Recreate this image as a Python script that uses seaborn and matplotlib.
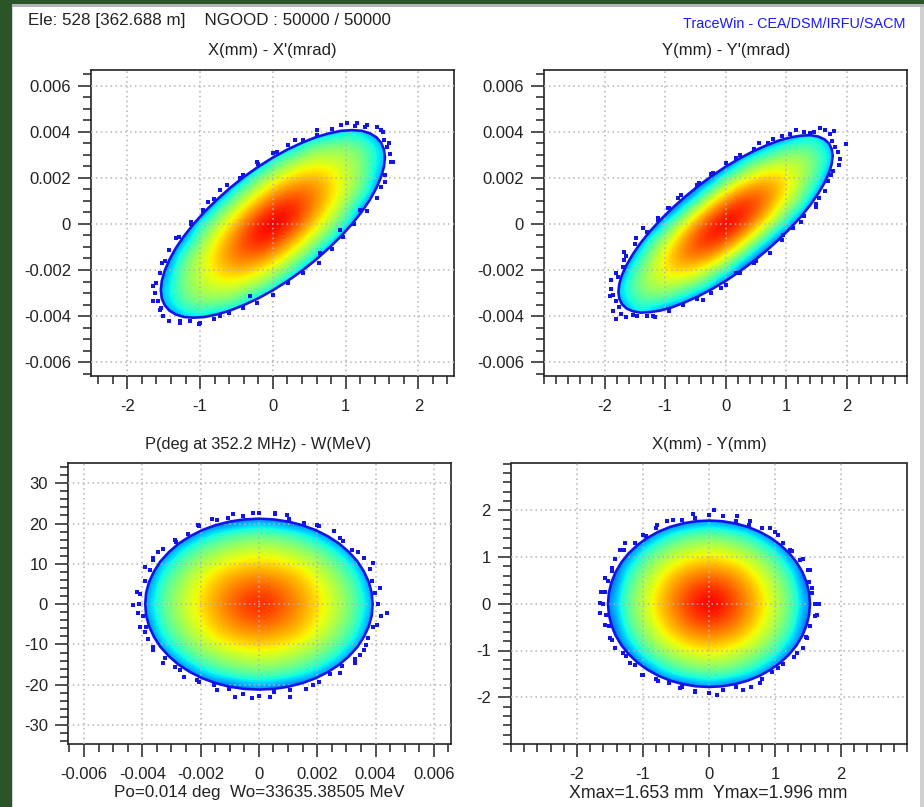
import numpy as np
import pandas as pd
import matplotlib
matplotlib.use("Agg")
import matplotlib.pyplot as plt
from matplotlib.patches import Polygon, Rectangle
from matplotlib.ticker import MultipleLocator
import seaborn as sns

# ---------- tick labels / titles ----------
xp_ticks = [-0.006, -0.004, -0.002, 0, 0.002, 0.004, 0.006]
xp_labels = ["-0.006", "-0.004", "-0.002", "0", "0.002", "0.004", "0.006"]
mm_ticks = [-2, -1, 0, 1, 2]
mm_labels = ["-2", "-1", "0", "1", "2"]
w_ticks = [-30, -20, -10, 0, 10, 20, 30]
w_labels = ["-30", "-20", "-10", "0", "10", "20", "30"]

# ---------- rms-ellipse outlines: upper half; the lower half mirrors it through the centre ----------
e1_x = [1.54, 1.527, 1.488, 1.423, 1.334, 1.222, 1.089, .938, .77, .589, .399, .201, 0, -.201, -.399, -.589, -.77, -.938,
        -1.089, -1.222, -1.334, -1.423, -1.488, -1.527]
e1_y = [.00288, .00323, .00352, .00376, .00393, .00404, .00407, .00404, .00393, .00376, .00352, .00323, .00288, .00248,
        .00204, .00156, .00105, .00053, 0, -.00053, -.00105, -.00156, -.00204, -.00248]
e2_x = [1.77, 1.755, 1.71, 1.635, 1.533, 1.404, 1.252, 1.078, .885, .677, .458, .231, 0, -.231, -.458, -.677, -.885, -1.078,
        -1.252, -1.404, -1.533, -1.635, -1.71, -1.755]
e2_y = [.00295, .00325, .00349, .00367, .00379, .00385, .00383, .00376, .00362, .00341, .00315, .00284, .00248, .00207,
        .00163, .00116, .00067, .00017, -.00033, -.00083, -.00132, -.00178, -.00221, -.0026]
e3_x = [.0039, .00387, .00377, .0036, .00338, .00309, .00276, .00237, .00195, .00149, .00101, .00051, 0, -.00051, -.00101,
        -.00149, -.00195, -.00237, -.00276, -.00309, -.00338, -.0036, -.00377, -.00387]
e3_y = [0, 2.77, 5.49, 8.11, 10.6, 12.91, 14.99, 16.82, 18.36, 19.59, 20.48, 21.02, 21.2, 21.02, 20.48, 19.59, 18.36, 16.82,
        14.99, 12.91, 10.6, 8.11, 5.49, 2.77]
e4_x = [1.53, 1.517, 1.478, 1.414, 1.325, 1.214, 1.082, .931, .765, .586, .396, .2, 0, -.2, -.396, -.586, -.765, -.931,
        -1.082, -1.214, -1.325, -1.414, -1.478, -1.517]
e4_y = [0, .232, .461, .681, .89, 1.084, 1.259, 1.412, 1.542, 1.645, 1.719, 1.765, 1.78, 1.765, 1.719, 1.645, 1.542, 1.412,
        1.259, 1.084, .89, .681, .461, .232]

# ---------- isolated particles outside the ellipses ----------
s1_x = [1.15, 1.29, 1.49, 1.59, 1.63, 1.54, 1.2, .92, .65, -.32, -.73, -1.0, -1.28, -1.55, -1.65, -1.6, -1.53, -1.33,
        -1.12, -.96, -.89, -.73, -.45, -.22, .05, .3, .6, .94]
s1_y = [.00436, .00429, .00407, .00349, .0027, .00183, .00061, -.00026, -.00127, -.00315, -.00401, -.0043, -.0043,
        -.00372, -.00336, -.00257, -.0017, -.00062, .0001, .0006, .00097, .00147, .00198, .0027, .00313, .00364, .00407, .00429]
s2_x = [1.565, 1.8, 1.99, 1.88, 1.75, 1.55, 1.5, 1.25, .95, .73, .51, .18, -.07, -.37, -.71, -1.2, -1.53, -1.81, -1.86,
        -1.91, -1.89, -1.81, -1.67, -1.67, -1.48, -1.37, -1.12, -.95, -.79, -.43, -.21, .18, .56, .78, 1.06, 1.39]
s2_y = [.00418, .00404, .00345, .00255, .00212, .00111, .00075, .0001, -.00048, -.00127, -.00163, -.00214, -.00278,
        -.00329, -.00351, -.00401, -.00394, -.00413, -.0038, -.00315, -.00242, -.00214, -.00156, -.0012, -.00062, -.00019,
        .00025, .00068, .00111, .00176, .00219, .00284, .00349, .00367, .0039, .00395]
s3_x = [-.00431, -.00408, -.00408, -.00391, -.00363, -.00345, -.00288, -.00208, -.00145, -.00088, -.0002, .00055, .00095,
        .00198, .00278, .00341, .00392, .00415, .00438, .00404, .00369, .00346, .00329, .00278, .00186, .00106, .00038,
        -.00025, -.00082, -.00145, -.00214, -.00271, -.00328, -.00363, -.00391, -.00414]
s3_y = [-.25, 2.6, -5.6, 9.3, 10.9, 13, 15.9, 19.6, 20.8, 22.3, 22.7, 22.5, 22.1, 19.6, 16.3, 13, 10.1, 3.9, -2.3, -5.2,
        -10.2, -12.7, -14.7, -17.2, -20.1, -23, -23, -23.4, -23, -21.3, -18.9, -16.4, -14.7, -10.6, -6.9, -2.3]
s4_x = [.07, -.24, -.54, -.79, -1.0, -1.27, -1.35, -1.47, -1.58, -1.58, -1.65, -1.65, -1.58, -1.47, -1.3, -1.2, -1.02, -.77,
        -.44, -.21, .12, .52, .77, 1.05, 1.33, 1.48, 1.61, 1.66, 1.56, 1.53, 1.38, 1.23, 1.05, .92, .62, .42]
s4_y = [2.0, 1.93, 1.8, 1.69, 1.48, 1.3, 1.16, .76, .55, .26, .01, -.2, -.45, -.77, -1.06, -1.27, -1.52, -1.66, -1.81, -1.88,
        -1.95, -1.84, -1.7, -1.38, -1.06, -.73, -.27, 0, .34, .73, .94, 1.16, 1.48, 1.62, 1.76, 1.88]

# ---------- particles hugging the ellipses (upper half; mirrored through the centre) ----------
h1_x = [1.617, 1.533, 1.427, 1.133, .809, .411, 0, -.415, -.809, -1.122, -1.427, -1.548,
        1.573, 1.508, 1.271, 1.013, .607, .213, -.209, -.636, -.966, -1.295, -1.48, -1.649]
h1_y = [.00302, .00363, .00421, .00423, .00413, .00363, .00308, .00212, .0011, 0, -.00112, -.00212,
        .00333, .00399, .0042, .00436, .00387, .00342, .00258, .00168, .00055, -.00056, -.00162, -.00268]
h2_x = [1.859, 1.761, 1.64, 1.302, .929, .472, 0, -.476, -.929, -1.29, -1.64, -1.778,
        1.808, 1.733, 1.46, 1.164, .697, .245, -.24, -.731, -1.11, -1.488, -1.7, -1.895]
h2_y = [.0031, .00359, .00406, .00398, .0038, .00324, .00265, .0017, .0007, -.00034, -.00141, -.0023,
        .00335, .00389, .004, .00406, .00351, .00301, .00215, .00125, .00018, -.00088, -.00185, -.00281]
h3_x = [.0041, .00388, .00362, .00287, .00205, .00104, 0, -.00105, -.00205, -.00284, -.00362, -.00392,
        .00399, .00382, .00321, .00256, .00153, .00054, -.00053, -.00161, -.00244, -.00328, -.00374, -.00418]
h3_y = [0, 5.65, 11.34, 15.59, 19.28, 21.09, 22.68, 21.3, 19.28, 15.44, 11.34, 5.71,
        2.85, 8.6, 13.43, 18.17, 20.18, 22.28, 21.86, 21.16, 17.32, 13.68, 8.43, 2.99]
h4_x = [1.607, 1.522, 1.418, 1.125, .803, .408, 0, -.412, -.803, -1.114, -1.418, -1.537,
        1.563, 1.499, 1.263, 1.005, .604, .212, -.208, -.633, -.959, -1.287, -1.471, -1.638]
h4_y = [0, .475, .952, 1.309, 1.619, 1.771, 1.905, 1.788, 1.619, 1.297, .952, .479,
        .239, .722, 1.127, 1.525, 1.694, 1.871, 1.836, 1.777, 1.454, 1.149, .708, .251]

# ---------- coarse density (top row first) ----------
d1_x = [-1.5, -1.25, -1.0, -.75, -.5, -.25, 0, .25, .5, .75, 1.0, 1.25, 1.5]
d1_y = [.0042, .0035, .0028, .0021, .0014, .0007, 0, -.0007, -.0014, -.0021, -.0028, -.0035, -.0042]
d1 = [
    [.15, .15, .15, .15, .15, .15, .15, .15, .15, .20, .30, .28, .15],
    [.15, .15, .15, .15, .15, .15, .15, .25, .44, .49, .50, .45, .30],
    [.15, .15, .15, .15, .15, .15, .40, .52, .59, .60, .57, .50, .30],
    [.15, .15, .15, .15, .15, .45, .58, .67, .71, .69, .60, .50, .25],
    [.15, .15, .15, .15, .47, .60, .73, .80, .80, .71, .60, .45, .15],
    [.15, .15, .15, .45, .60, .75, .87, .90, .80, .67, .52, .25, .15],
    [.15, .15, .40, .58, .73, .87, .95, .87, .73, .58, .40, .15, .15],
    [.15, .25, .52, .67, .80, .90, .87, .75, .60, .45, .15, .15, .15],
    [.15, .45, .60, .71, .80, .80, .73, .60, .47, .15, .15, .15, .15],
    [.25, .50, .60, .69, .71, .67, .58, .45, .15, .15, .15, .15, .15],
    [.30, .50, .57, .60, .59, .52, .40, .15, .15, .15, .15, .15, .15],
    [.30, .45, .50, .49, .44, .25, .15, .15, .15, .15, .15, .15, .15],
    [.15, .28, .30, .20, .15, .15, .15, .15, .15, .15, .15, .15, .15],
]
d2_x = [-1.8, -1.5, -1.2, -.9, -.6, -.3, 0, .3, .6, .9, 1.2, 1.5, 1.8]
d2_y = [.0039, .00325, .0026, .00195, .0013, .00065, 0, -.00065, -.0013, -.00195, -.0026, -.00325, -.0039]
d2 = [
    [.15, .15, .15, .15, .15, .15, .15, .15, .15, .15, .28, .38, .15],
    [.15, .15, .15, .15, .15, .15, .15, .15, .30, .44, .50, .44, .30],
    [.15, .15, .15, .15, .15, .15, .15, .44, .55, .60, .58, .50, .28],
    [.15, .15, .15, .15, .15, .15, .50, .62, .71, .70, .60, .44, .15],
    [.15, .15, .15, .15, .15, .52, .68, .80, .81, .71, .56, .30, .15],
    [.15, .15, .15, .15, .52, .70, .85, .90, .80, .62, .44, .15, .15],
    [.15, .15, .15, .50, .68, .85, .95, .85, .68, .50, .15, .15, .15],
    [.15, .15, .44, .62, .80, .90, .85, .70, .52, .15, .15, .15, .15],
    [.15, .30, .56, .71, .81, .80, .68, .52, .15, .15, .15, .15, .15],
    [.15, .44, .60, .70, .71, .62, .50, .15, .15, .15, .15, .15, .15],
    [.28, .50, .58, .60, .55, .44, .15, .15, .15, .15, .15, .15, .15],
    [.30, .44, .50, .44, .30, .15, .15, .15, .15, .15, .15, .15, .15],
    [.15, .38, .28, .15, .15, .15, .15, .15, .15, .15, .15, .15, .15],
]
d3_x = [-.004, -.00333, -.00267, -.002, -.00133, -.00067, 0, .00067, .00133, .002, .00267, .00333, .004]
d3_y = [21, 17.5, 14, 10.5, 7, 3.5, 0, -3.5, -7, -10.5, -14, -17.5, -21]
d3 = [
    [.15, .15, .15, .15, .15, .20, .25, .20, .15, .15, .15, .15, .15],
    [.15, .15, .15, .30, .40, .45, .46, .45, .40, .30, .15, .15, .15],
    [.15, .15, .35, .46, .52, .56, .58, .56, .52, .46, .35, .15, .15],
    [.15, .30, .46, .55, .62, .66, .68, .66, .62, .55, .46, .30, .15],
    [.15, .40, .52, .62, .70, .74, .76, .74, .70, .62, .52, .40, .15],
    [.20, .45, .56, .66, .74, .80, .84, .80, .74, .66, .56, .45, .20],
    [.25, .46, .58, .68, .76, .84, .88, .84, .76, .68, .58, .46, .25],
    [.20, .45, .56, .66, .74, .80, .84, .80, .74, .66, .56, .45, .20],
    [.15, .40, .52, .62, .70, .74, .76, .74, .70, .62, .52, .40, .15],
    [.15, .30, .46, .55, .62, .66, .68, .66, .62, .55, .46, .30, .15],
    [.15, .15, .35, .46, .52, .56, .58, .56, .52, .46, .35, .15, .15],
    [.15, .15, .15, .30, .40, .45, .46, .45, .40, .30, .15, .15, .15],
    [.15, .15, .15, .15, .15, .20, .25, .20, .15, .15, .15, .15, .15],
]
d4_x = [-1.5, -1.25, -1.0, -.75, -.5, -.25, 0, .25, .5, .75, 1.0, 1.25, 1.5]
d4_y = [1.8, 1.5, 1.2, .9, .6, .3, 0, -.3, -.6, -.9, -1.2, -1.5, -1.8]
d4 = [
    [.15, .15, .15, .15, .15, .20, .25, .20, .15, .15, .15, .15, .15],
    [.15, .15, .15, .30, .40, .45, .46, .45, .40, .30, .15, .15, .15],
    [.15, .15, .35, .46, .53, .57, .59, .57, .53, .46, .35, .15, .15],
    [.15, .30, .46, .56, .63, .68, .70, .68, .63, .56, .46, .30, .15],
    [.15, .40, .53, .63, .72, .77, .79, .77, .72, .63, .53, .40, .15],
    [.20, .45, .57, .68, .77, .84, .88, .84, .77, .68, .57, .45, .20],
    [.25, .46, .59, .70, .79, .88, .93, .88, .79, .70, .59, .46, .25],
    [.20, .45, .57, .68, .77, .84, .88, .84, .77, .68, .57, .45, .20],
    [.15, .40, .53, .63, .72, .77, .79, .77, .72, .63, .53, .40, .15],
    [.15, .30, .46, .56, .63, .68, .70, .68, .63, .56, .46, .30, .15],
    [.15, .15, .35, .46, .53, .57, .59, .57, .53, .46, .35, .15, .15],
    [.15, .15, .15, .30, .40, .45, .46, .45, .40, .30, .15, .15, .15],
    [.15, .15, .15, .15, .15, .20, .25, .20, .15, .15, .15, .15, .15],
]

# ---------- style ----------
sns.set_theme(style="white")
plt.rcParams["font.family"] = ["Liberation Sans", "DejaVu Sans"]
plt.rcParams["axes.unicode_minus"] = False

W, H = 924, 807
fig = plt.figure(figsize=(W / 100, H / 100), dpi=100, facecolor="white")


def fx(px):
    return px / W


def fy(px):
    return 1 - px / H


# window frame
GREEN = "#2b5529"
for (x0, y0, x1, y1, c) in [(0, 0, 12, H, GREEN), (0, 0, W, 4, GREEN),
                            (12, 4, W, 7, "#b4b4b4"), (12, 7, 13, H, "#d8d8d8"),
                            (920, 7, W, H, "#d0d0d0")]:
    fig.add_artist(Rectangle((fx(x0), fy(y1)), (x1 - x0) / W, (y1 - y0) / H,
                             transform=fig.transFigure, facecolor=c, edgecolor="none"))

BLUE = "#1414e6"


def mirrored(half):
    return list(half) + [-v for v in half]


def panel(box, xlim, ylim, xticks, xlabels, yticks, ylabels, xminor, yminor,
          dx, dy, dens, ex, ey, sx, sy, hx, hy):
    left, top, right, bottom = box
    ax = fig.add_axes([fx(left), fy(bottom), (right - left) / W, (bottom - top) / H])
    ax.set_facecolor("none")
    ax.set_zorder(2)
    stepx = abs(dx[1] - dx[0]) / 2
    stepy = abs(dy[1] - dy[0]) / 2
    im = ax.imshow(np.array(dens), cmap="jet", vmin=0, vmax=1.0, origin="upper",
                   extent=(dx[0] - stepx, dx[-1] + stepx, dy[-1] - stepy, dy[0] + stepy),
                   aspect="auto", interpolation="bicubic", zorder=1)
    line_x = mirrored(ex) + [ex[0]]
    line_y = mirrored(ey) + [ey[0]]
    clip = Polygon(np.column_stack([line_x, line_y]), closed=True, transform=ax.transData)
    im.set_clip_path(clip)
    sns.scatterplot(data=pd.DataFrame({"x": list(sx) + mirrored(hx), "y": list(sy) + mirrored(hy)}),
                    x="x", y="y", ax=ax, marker="s", s=5.5, color=BLUE, linewidth=0, zorder=3)
    sns.lineplot(data=pd.DataFrame({"x": line_x, "y": line_y}), x="x", y="y", ax=ax, sort=False,
                 estimator=None, color=BLUE, linewidth=1.9, zorder=4)
    ax.set_xlim(*xlim)
    ax.set_ylim(*ylim)
    ax.set_xlabel("")
    ax.set_ylabel("")
    ax.set_xticks(xticks, xlabels)
    ax.set_yticks(yticks, ylabels)
    ax.xaxis.set_minor_locator(MultipleLocator(xminor))
    ax.yaxis.set_minor_locator(MultipleLocator(yminor))
    ax.tick_params(which="major", direction="out", length=9.4, width=1.1, color="#222222",
                   labelsize=12, labelcolor="#222222", pad=5, bottom=True, left=True)
    ax.tick_params(axis="x", which="major", pad=7.2)
    ax.tick_params(which="minor", direction="out", length=5.6, width=1.1, color="#222222",
                   bottom=True, left=True)
    ax.grid(True, which="major", color="#b4b4b4", linestyle=(0, (1, 2.2)), linewidth=1.1, zorder=2)
    ax.grid(False, which="minor")
    ax.set_axisbelow(False)
    for line in ax.get_xgridlines() + ax.get_ygridlines():
        line.set_zorder(5)
    for sp in ax.spines.values():
        sp.set_color("#222222")
        sp.set_linewidth(1.2)
        sp.set_visible(True)
    return ax


panel((91, 69.5, 454, 376), (-2.5, 2.49), (-0.0066, 0.0067), mm_ticks, mm_labels, xp_ticks, xp_labels,
      0.2, 0.0005, d1_x, d1_y, d1, e1_x, e1_y, s1_x, s1_y, h1_x, h1_y)
panel((544, 69.5, 907, 376), (-3.0, 3.0), (-0.0066, 0.0067), mm_ticks, mm_labels, xp_ticks, xp_labels,
      0.2, 0.0005, d2_x, d2_y, d2, e2_x, e2_y, s2_x, s2_y, h2_x, h2_y)
panel((68, 463.5, 451, 744), (-0.00655, 0.00659), (-34.7, 34.9), xp_ticks, xp_labels, w_ticks, w_labels,
      0.0005, 2, d3_x, d3_y, d3, e3_x, e3_y, s3_x, s3_y, h3_x, h3_y)
panel((511, 463.5, 907, 744), (-3.0, 3.0), (-3.0, 3.0), mm_ticks, mm_labels, mm_ticks, mm_labels,
      0.2, 0.2, d4_x, d4_y, d4, e4_x, e4_y, s4_x, s4_y, h4_x, h4_y)


def label(px, py, s, ha="center", color="#222222", size=12):
    fig.text(fx(px), fy(py), s, ha=ha, va="center", color=color, fontsize=size, zorder=10)


label(28, 20, "Ele: 528 [362.688 m]    NGOOD : 50000 / 50000", ha="left", size=12.25)
label(905, 24, "TraceWin - CEA/DSM/IRFU/SACM", ha="right", color="#1a1aff", size=10.4)
label(272, 51, "X(mm) - X'(mrad)")
label(726, 51, "Y(mm) - Y'(mrad)")
label(258, 444, "P(deg at 352.2 MHz) - W(MeV)", size=11.8)
label(709, 444, "X(mm) - Y(mm)")
label(259, 793, "Po=0.014 deg  Wo=33635.38505 MeV", size=12.25)
label(708, 793, "Xmax=1.653 mm  Ymax=1.996 mm", size=12.8)

fig.savefig("out.png", dpi=100)
